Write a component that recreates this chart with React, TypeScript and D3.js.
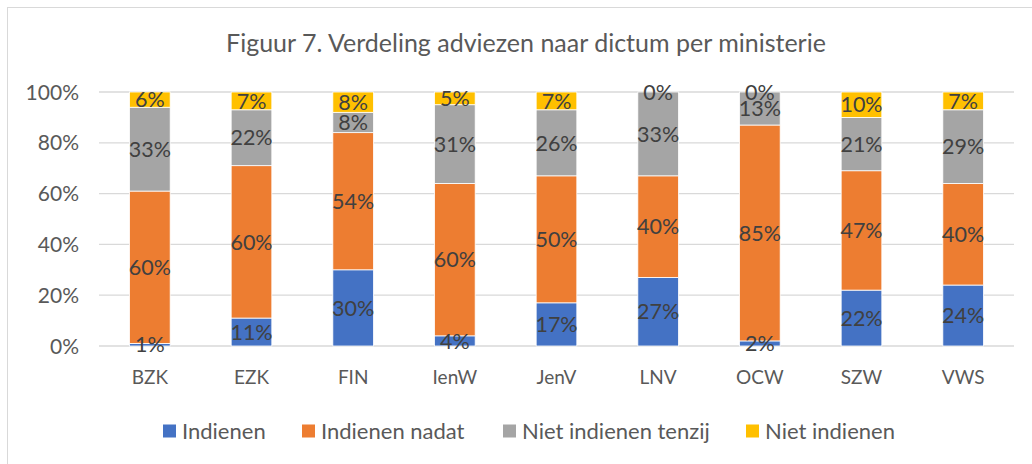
import * as d3 from "d3";

const WIDTH = 1032;
const HEIGHT = 464;
const PLOT = { left: 99, right: 1014, top: 92, bottom: 346 };

const categories = ["BZK", "EZK", "FIN", "IenW", "JenV", "LNV", "OCW", "SZW", "VWS"];
const seriesNames = ["Indienen", "Indienen nadat", "Niet indienen tenzij", "Niet indienen"];
const seriesColors = ["#4472C4", "#ED7D31", "#A5A5A5", "#FFC000"];

const indienen = [1, 11, 30, 4, 17, 27, 2, 22, 24];
const indienenNadat = [60, 60, 54, 60, 50, 40, 85, 47, 40];
const nietIndienenTenzij = [33, 22, 8, 31, 26, 33, 13, 21, 29];
const nietIndienen = [6, 7, 8, 5, 7, 0, 0, 10, 7];

const yTicks = [0, 20, 40, 60, 80, 100];

const FONT = "Lato, 'Open Sans', sans-serif";

export default function App() {
  const rows = categories.map((c, i) => ({
    cat: c,
    s0: indienen[i],
    s1: indienenNadat[i],
    s2: nietIndienenTenzij[i],
    s3: nietIndienen[i],
  }));
  const keys = ["s0", "s1", "s2", "s3"];
  const stacked = d3.stack<any>().keys(keys)(rows);

  const x = d3
    .scaleBand()
    .domain(categories)
    .range([PLOT.left, PLOT.right])
    .paddingInner(0.6)
    .paddingOuter(0.3);
  const y = d3.scaleLinear().domain([0, 100]).range([PLOT.bottom, PLOT.top]);

  // legend swatch positions
  const legendX = [163, 302, 503, 746];

  return (
    <svg
      width={WIDTH}
      height={HEIGHT}
      style={{ position: "absolute", left: 0, top: 0, background: "#fff" }}
      fontFamily={FONT}
    >
      <rect x={7.5} y={7.5} width={1030} height={470} fill="#fff" stroke="#D9D9D9" />
      <text x={526} y={52} textAnchor="middle" fontSize={25} fill="#595959">
        Figuur 7. Verdeling adviezen naar dictum per ministerie
      </text>

      {yTicks.map((t) => (
        <g key={t}>
          <line x1={PLOT.left} x2={PLOT.right} y1={y(t)} y2={y(t)} stroke="#D9D9D9" strokeWidth={1.3} />
          <text x={79} y={y(t)} dy="0.36em" textAnchor="end" fontSize={21} fill="#595959">
            {t}%
          </text>
        </g>
      ))}

      {stacked.map((layer, si) => (
        <g key={si}>
          {layer.map((d, i) => (
            <rect
              key={i}
              x={x(categories[i])}
              y={y(d[1])}
              width={x.bandwidth()}
              height={Math.max(0, y(d[0]) - y(d[1]))}
              fill={seriesColors[si]}
              stroke="#fff"
              strokeWidth={0.8}
            />
          ))}
        </g>
      ))}

      {stacked.map((layer, si) => (
        <g key={"l" + si}>
          {layer.map((d, i) => (
            <text
              key={i}
              x={(x(categories[i]) ?? 0) + x.bandwidth() / 2}
              y={y((d[0] + d[1]) / 2)}
              dy="0.36em"
              textAnchor="middle"
              fontSize={21.5}
              fill="#404040"
            >
              {d[1] - d[0]}%
            </text>
          ))}
        </g>
      ))}

      {categories.map((c) => (
        <text
          key={c}
          x={(x(c) ?? 0) + x.bandwidth() / 2}
          y={377}
          dy="0.36em"
          textAnchor="middle"
          fontSize={19}
          fill="#595959"
        >
          {c}
        </text>
      ))}

      {seriesNames.map((n, i) => (
        <g key={n} transform={`translate(${legendX[i]},431)`}>
          <rect x={0} y={-6.5} width={13} height={13} fill={seriesColors[i]} />
          <text x={19} y={0} dy="0.36em" fontSize={22} fill="#595959">
            {n}
          </text>
        </g>
      ))}
    </svg>
  );
}
